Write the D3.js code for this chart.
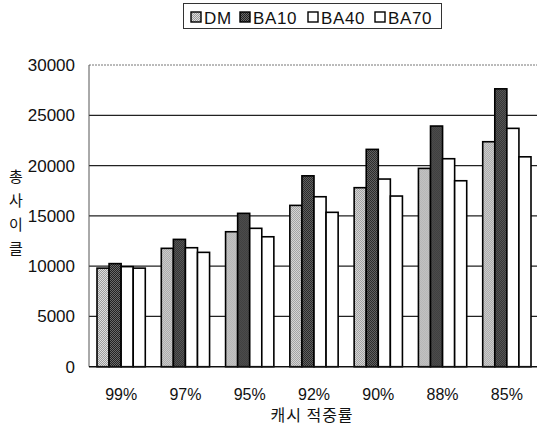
<!DOCTYPE html>
<html>
<head>
<meta charset="utf-8">
<script src="https://cdn.jsdelivr.net/npm/d3@7"></script>
<style>
  html, body { margin: 0; padding: 0; background: #fff; }
  svg { display: block; }
  text { font-family: "Liberation Sans", Arial, sans-serif; fill: #111; }
</style>
</head>
<body>
<svg id="chart" width="537" height="432"></svg>
<script>
// Cache hit rate categories and total cycle counts per scheme
const categories = ["99%", "97%", "95%", "92%", "90%", "88%", "85%"];
const seriesNames = ["DM", "BA10", "BA40", "BA70"];
const dmValues   = [9800, 11770, 13420, 16040, 17800, 19720, 22370];
const ba10Values = [10250, 12660, 15250, 18980, 21610, 23930, 27630];
const ba40Values = [9950, 11830, 13760, 16900, 18660, 20680, 23700];
const ba70Values = [9800, 11370, 12920, 15350, 16970, 18490, 20870];
const yTicks = [0, 5000, 10000, 15000, 20000, 25000, 30000];
const yTitle = ["총", "사", "이", "클"];
const xTitle = "캐시 적중률";

const seriesValues = [dmValues, ba10Values, ba40Values, ba70Values];

const svg = d3.select("#chart");
const defs = svg.append("defs");

// Halftone-like stipple fills for the shaded series
function stipple(id, dark, light) {
  const p = defs.append("pattern").attr("id", id)
    .attr("patternUnits", "userSpaceOnUse").attr("width", 2).attr("height", 2);
  p.append("rect").attr("width", 2).attr("height", 2).attr("fill", light);
  p.append("rect").attr("width", 1).attr("height", 1).attr("fill", dark);
  p.append("rect").attr("x", 1).attr("y", 1).attr("width", 1).attr("height", 1).attr("fill", dark);
}
stipple("dmFill", "#9a9a9a", "#dedede");
stipple("ba10Fill", "#222", "#6a6a6a");
const fills = ["url(#dmFill)", "url(#ba10Fill)", "#fff", "#fff"];

const plotLeft = 89, plotRight = 539, plotTop = 65, plotBottom = 366.7;

const x0 = d3.scaleBand().domain(categories).range([plotLeft, plotRight]).padding(0);
const x1 = d3.scaleBand().domain(seriesNames).range([8, x0.bandwidth() - 8]).padding(0);
const y = d3.scaleLinear().domain([0, 30000]).range([plotBottom, plotTop]);

// Horizontal gridlines
svg.append("g").selectAll("line")
  .data(yTicks.filter(d => d > 0 && d < 30000))
  .join("line")
  .attr("x1", plotLeft).attr("x2", 537)
  .attr("y1", d => y(d)).attr("y2", d => y(d))
  .attr("stroke", "#222").attr("stroke-width", 1.2);

// Plot area frame: dotted top edge and thin left axis line
svg.append("line").attr("x1", plotLeft).attr("x2", 537).attr("y1", y(30000)).attr("y2", y(30000))
  .attr("stroke", "#777").attr("stroke-width", 1).attr("stroke-dasharray", "2,1");
svg.append("line").attr("x1", plotLeft).attr("x2", plotLeft).attr("y1", y(30000)).attr("y2", plotBottom)
  .attr("stroke", "#555").attr("stroke-width", 1);

// Y axis labels
const yAxis = d3.axisLeft(y).tickValues(yTicks).tickFormat(d3.format("d")).tickSize(0).tickPadding(14);
const yg = svg.append("g").attr("transform", `translate(${plotLeft},0)`).call(yAxis);
yg.select(".domain").remove();
yg.selectAll("text").style("font-size", "17px").style("font-family", "Liberation Sans, Arial, sans-serif").attr("fill", "#111");

// Bars
const groups = svg.append("g").selectAll("g")
  .data(categories)
  .join("g")
  .attr("transform", d => `translate(${x0(d)},0)`);

groups.selectAll("rect")
  .data((c, i) => seriesNames.map((s, k) => ({ s, k, v: seriesValues[k][i] })))
  .join("rect")
  .attr("x", d => x1(d.s))
  .attr("width", x1.bandwidth())
  .attr("y", d => y(d.v))
  .attr("height", d => plotBottom - y(d.v))
  .attr("fill", d => fills[d.k])
  .attr("stroke", "#000")
  .attr("stroke-width", 1.6);

// Baseline
svg.append("line").attr("x1", plotLeft).attr("x2", 537).attr("y1", plotBottom).attr("y2", plotBottom)
  .attr("stroke", "#111").attr("stroke-width", 1.5);

// X axis labels
const xAxis = d3.axisBottom(x0).tickSize(0).tickPadding(22);
const xg = svg.append("g").attr("transform", `translate(0,${plotBottom})`).call(xAxis);
xg.select(".domain").remove();
xg.selectAll("text").style("font-size", "16px").style("font-family", "Liberation Sans, Arial, sans-serif").attr("fill", "#111");

// Axis titles
svg.append("text")
  .attr("x", 312).attr("y", 421)
  .attr("text-anchor", "middle")
  .style("font-family", "Noto Sans CJK KR, sans-serif")
  .style("font-size", "16px")
  .style("letter-spacing", "1px")
  .text(xTitle);

svg.append("g").selectAll("text")
  .data(yTitle)
  .join("text")
  .attr("x", 16)
  .attr("y", (d, i) => 182 + i * 24)
  .attr("text-anchor", "middle")
  .style("font-family", "Noto Sans CJK KR, sans-serif")
  .style("font-size", "15px")
  .text(d => d);

// Legend
const legend = svg.append("g");
legend.append("rect")
  .attr("x", 183.5).attr("y", 3.5).attr("width", 258).attr("height", 25)
  .attr("fill", "#fff").attr("stroke", "#333").attr("stroke-width", 1);
const legendX = [191, 240, 308, 375];
const items = legend.selectAll("g.item")
  .data(seriesNames)
  .join("g").attr("class", "item")
  .attr("transform", (d, i) => `translate(${legendX[i]},12)`);
items.append("rect")
  .attr("width", 10).attr("height", 10)
  .attr("fill", (d, i) => fills[i])
  .attr("stroke", "#000").attr("stroke-width", 1.4);
items.append("text")
  .attr("x", 13).attr("y", 11.5)
  .style("font-size", "17px")
  .style("letter-spacing", "0.6px")
  .text(d => d);
</script>
</body>
</html>
